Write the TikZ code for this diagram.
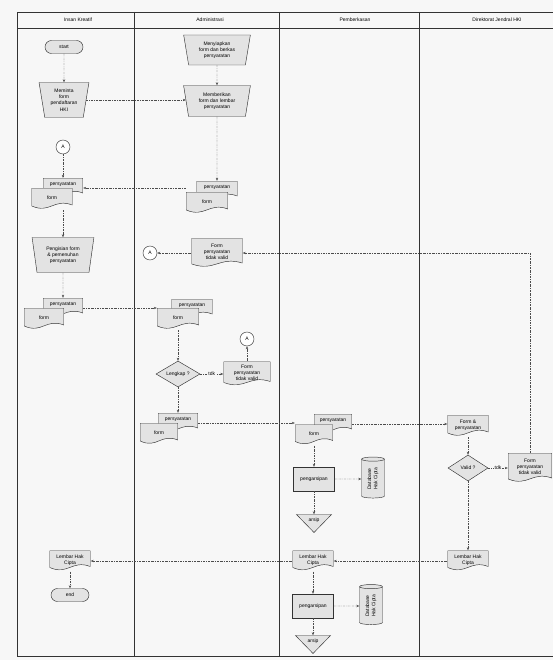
\documentclass[tikz,border=0pt]{standalone}
\usepackage{fontspec}
\setmainfont{Liberation Sans}
\usetikzlibrary{shapes.geometric, shapes.misc, positioning, arrows.meta, calc}

\newcommand{\flowfont}{\fontsize{5}{6.2}\selectfont}

\begin{document}
\begin{tikzpicture}[x=1pt, y=-1pt,
    lane/.style={draw=black!80, line width=0.7pt},
    header/.style={font=\flowfont},
    box/.style={draw=black!80, line width=0.45pt, fill=gray!22, align=center, font=\flowfont, inner sep=1pt},
    term/.style={box, rounded rectangle, minimum width=40pt, minimum height=13pt},
    manual/.style={box, trapezium, shape border rotate=180, trapezium left angle=80, trapezium right angle=80, trapezium stretches=true},
    proc/.style={box, rectangle, minimum width=41pt, minimum height=24pt},
    decision/.style={box, diamond, aspect=1.7, inner sep=0pt},
    conn/.style={box, circle, fill=white, minimum size=14pt, inner sep=0pt},
    dbase/.style={box, cylinder, rotate=90, aspect=0.35, minimum width=23pt, minimum height=41pt, inner sep=0.5pt},
    store/.style={box, isosceles triangle, shape border rotate=270, isosceles triangle stretches=true, minimum width=35pt, minimum height=18pt, inner sep=0pt},
    doc/.style={align=center, font=\flowfont, inner sep=1pt, text depth=3pt,
        path picture={
            \filldraw[draw=black!80, line width=0.45pt, fill=gray!22]
                let \p1=(path picture bounding box.north west),
                    \p2=(path picture bounding box.south east),
                    \n1={\x2-\x1} in
                (\x1+0.25pt, \y1-0.25pt) -- (\x2-0.25pt, \y1-0.25pt) -- (\x2-0.25pt, \y2+5pt)
                .. controls (\x1+0.55*\n1, \y2+12pt) and (\x1+0.45*\n1, \y2-4pt) .. (\x1+0.25pt, \y2+4pt) -- cycle;
        }},
    docb/.style={doc, text depth=8pt},
    flow/.style={draw=black!70, line width=0.45pt, dash pattern=on 2pt off 1pt on 0.6pt off 1pt, -{Stealth[length=3pt, width=2.4pt]}},
    lbl/.style={font=\flowfont, fill=black!3, inner sep=0.5pt}
]
    \useasboundingbox[fill=black!3] (0,0) rectangle (553,660);
    \clip (0,0) rectangle (553,660);

    % --- swimlanes ---
    \draw[lane] (17,12) rectangle (575,656);
    \draw[lane] (17,28) -- (575,28);
    \foreach \x in {134,279,419}
        \draw[lane] (\x,12) -- (\x,656);
    \node[header] (h_ik) at (78,20) {Insan Kreatif};
    \node[header] (h_ad) at (210,20) {Administrasi};
    \node[header] (h_pb) at (355,20) {Pemberkasan};
    \node[header] (h_dj) at (497,20) {Direktorat Jendral HKI};

    % --- Insan Kreatif ---
    \node[term] (ik_start) at (64,47) {start};
    \node[manual, minimum width=50pt, minimum height=35pt] (ik_minta) at (64,100) {Meminta\\form\\pendaftaran\\HKI};
    \node[conn] (ik_a) at (63,147) {A};
    \node[docb, minimum width=40pt, minimum height=20pt] (ik_sy) at (63,188) {persyaratan};
    \node[doc, minimum width=41pt, minimum height=22pt] (ik_fm) at (52,199) {form};
    \node[manual, minimum width=62pt, minimum height=35pt] (ik_isi) at (63,255) {Pengisian form\\\& pemenuhan\\persyaratan};
    \node[docb, minimum width=40pt, minimum height=20pt] (ik_sy2) at (63,308) {persyaratan};
    \node[doc, minimum width=40pt, minimum height=22pt] (ik_fm2) at (44,319) {form};
    \node[doc, minimum width=41pt, minimum height=21pt] (ik_hc) at (70,561) {Lembar Hak\\Cipta};
    \node[term] (ik_end) at (70,595) {end};

    % --- Administrasi ---
    \node[manual, minimum width=67pt, minimum height=30pt] (ad_siap) at (217,50) {Menyiapkan\\form dan berkas\\persyaratan};
    \node[manual, minimum width=67pt, minimum height=31pt] (ad_beri) at (217,101) {Memberikan\\form dan lembar\\persyaratan};
    \node[docb, minimum width=41pt, minimum height=20pt] (ad_sy) at (217,191) {persyaratan};
    \node[doc, minimum width=42pt, minimum height=22pt] (ad_fm) at (207,203) {form};
    \node[conn] (ad_a) at (150,253) {A};
    \node[doc, minimum width=51pt, minimum height=30pt] (ad_tv) at (217,253) {Form\\persyaratan\\tidak valid};
    \node[docb, minimum width=41pt, minimum height=20pt] (ad_sy2) at (192,309) {persyaratan};
    \node[doc, minimum width=42pt, minimum height=22pt] (ad_fm2) at (178,319) {form};
    \node[conn] (ad_a2) at (247,339) {A};
    \node[decision, minimum width=44pt, minimum height=26pt] (ad_lkp) at (178,374) {Lengkap ?};
    \node[doc, minimum width=47pt, minimum height=25pt] (ad_tv2) at (247,374) {Form\\persyaratan\\tidak valid};
    \node[docb, minimum width=40pt, minimum height=20pt] (ad_sy3) at (178,423) {persyaratan};
    \node[doc, minimum width=38pt, minimum height=22pt] (ad_fm3) at (159,434) {form};

    % --- Pemberkasan ---
    \node[docb, minimum width=38pt, minimum height=20pt] (pb_sy) at (333,424) {persyaratan};
    \node[doc, minimum width=38pt, minimum height=21pt] (pb_fm) at (314,435) {form};
    \node[proc] (pb_arsip) at (314,479) {pengarsipan};
    \node[dbase] (pb_db) at (373,479) {Database\\Hak Cipta};
    \node[store] (pb_tri) at (314,520) {arsip};
    \node[doc, minimum width=41pt, minimum height=21pt] (pb_hc) at (313,561) {Lembar Hak\\Cipta};
    \node[proc] (pb_arsip2) at (313,606) {pengarsipan};
    \node[dbase, minimum height=40pt] (pb_db2) at (371,606) {Database\\Hak Cipta};
    \node[store] (pb_tri2) at (313,641) {arsip};

    % --- Direktorat Jendral HKI ---
    \node[doc, minimum width=41pt, minimum height=22pt] (dj_fp) at (468,426) {Form \&\\persyaratan};
    \node[decision, minimum width=40pt, minimum height=26pt] (dj_valid) at (468,468) {Valid ?};
    \node[doc, minimum width=44pt, minimum height=30pt] (dj_tv) at (530,468) {Form\\persyaratan\\tidak valid};
    \node[doc, minimum width=41pt, minimum height=21pt] (dj_hc) at (468,561) {Lembar Hak\\Cipta};

    % --- alur ---
    \draw[flow] (ik_start) -- (ik_minta);
    \draw[flow] (ik_minta.east) -- (ik_minta.east -| ad_beri.west);
    \draw[flow] (ad_siap) -- (ad_beri);
    \draw[flow] (ad_beri) -- (ad_sy);
    \draw[flow] (ad_fm.west |- ik_sy.east) -- (ik_sy.east);
    \draw[flow] (ik_a) -- (ik_sy);
    \draw[flow] (ik_fm.south -| ik_isi.north) -- (ik_isi.north);
    \draw[flow] (ik_isi) -- (ik_sy2);
    \draw[flow] (ik_sy2.east) -- (ik_sy2.east -| ad_fm2.west);
    \draw[flow] (ad_fm2) -- (ad_lkp);
    \draw[flow] (ad_lkp) -- node[lbl] {tdk} (ad_tv2);
    \draw[flow] (ad_tv2) -- (ad_a2);
    \draw[flow] (ad_lkp) -- (ad_sy3);
    \draw[flow] (ad_tv) -- (ad_a);
    \draw[flow] (dj_tv.north) |- (ad_tv.east);
    \draw[flow] (ad_sy3.east) -- (ad_sy3.east -| pb_fm.west);
    \draw[flow] (pb_sy.east) -- (pb_sy.east -| dj_fp.west);
    \draw[flow] (pb_fm) -- (pb_arsip);
    \draw[flow] (pb_arsip) -- (pb_db);
    \draw[flow] (pb_arsip) -- (pb_tri);
    \draw[flow] (dj_fp) -- (dj_valid);
    \draw[flow] (dj_valid) -- node[lbl] {tdk} (dj_tv);
    \draw[flow] (dj_valid) -- (dj_hc);
    \draw[flow] (dj_hc) -- (pb_hc);
    \draw[flow] (pb_hc) -- (ik_hc);
    \draw[flow] (pb_hc) -- (pb_arsip2);
    \draw[flow] (pb_arsip2) -- (pb_db2);
    \draw[flow] (pb_arsip2) -- (pb_tri2);
    \draw[flow] (ik_hc) -- (ik_end);

\end{tikzpicture}
\end{document}
